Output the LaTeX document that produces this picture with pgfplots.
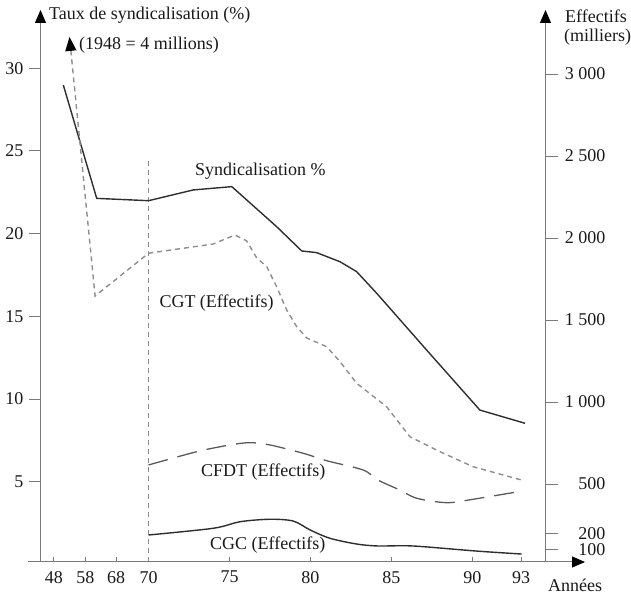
\documentclass[border=0pt]{standalone}
\usepackage{fontspec}
\setmainfont{Liberation Serif}
\usepackage{pgfplots}
\pgfplotsset{compat=1.18}
\usetikzlibrary{arrows.meta}
\definecolor{axisgray}{HTML}{7A7A7A}
\definecolor{syncol}{HTML}{2E2E2E}
\definecolor{cgtcol}{HTML}{8E8E8E}
\definecolor{cfdtcol}{HTML}{5A5A5A}
\definecolor{cgccol}{HTML}{2E2E2E}
\pgfplotsset{
  base/.style={scale only axis, width=505pt, height=552pt, xmin=63.33, xmax=94.51,
    clip=false, axis line style={draw=none},
    tick style={color=axisgray, line width=0.9pt},
    ticklabel style={font=\fontsize{18}{20}\selectfont, text=black!90},
    /pgf/number format/assume math mode=true,
    at={(0,0)}, anchor=south west},
}
\begin{document}
\fontsize{18}{20}\selectfont
\begin{tikzpicture}[x=1pt,y=1pt]
\useasboundingbox (-40.5,-34) rectangle (590.5,562);
% x ticks
\begin{axis}[base, ymin=0, ymax=1, ytick=\empty,
  xtick={64.15,66.1,68,70,75,80,85,90,93},
  xticklabels={48,58,68,70,75,80,85,90,93},
  xtick pos=left, tick align=inside, major tick length=5pt,
  xticklabel style={yshift=-3pt}]
\end{axis}
% left axis (taux)
\begin{axis}[base, ymin=0.145, ymax=33.52, xtick=\empty,
  ytick={5,10,15,20,25,30}, yticklabels={5,10,15,20,25,30},
  ytick pos=left, tick align=outside, major tick length=11pt]
\draw[cgtcol, line width=0.9pt, dash pattern=on 5pt off 4pt] (axis cs:70,0.145) -- (axis cs:70,24.45);
\addplot[syncol, line width=1.4pt] coordinates {
(64.74,28.98) (66.80,22.13) (70,21.99) (72.76,22.64) (75.14,22.84) (77.91,20.42)
(79.46,18.95) (80.38,18.85) (81.82,18.30) (82.85,17.70) (84.09,16.39) (87.17,12.96)
(90.46,9.33) (93.25,8.53)};
\end{axis}
% right axis (effectifs)
\begin{axis}[base, ymin=24.4, ymax=3390, xtick=\empty,
  ytick={100,200,500,1000,1500,2000,2500,3000},
  yticklabels={100,200,500,1 000,1 500,2 000,2 500,3 000},
  ytick pos=right, tick align=outside, major tick length=12pt,
  yticklabel style={anchor=east, xshift=54pt}]
\addplot[cgtcol, line width=1.4pt, dash pattern=on 5pt off 4pt,
  arrows={Triangle[length=14pt,width=11pt,fill=black,color=black]-}] coordinates {
(65.12,3226) (66.70,1646) (70,1907) (73.98,1963) (75.34,2018) (76.06,1982) (76.68,1878)
(77.30,1825) (77.91,1703) (78.53,1561) (79.15,1459) (79.77,1390) (81.00,1337)
(81.82,1246) (82.85,1114) (84.70,971) (86.14,788) (87.99,697) (90.05,605) (93.04,524)};
\addplot[cfdtcol, line width=1.3pt, dash pattern=on 20pt off 10pt, smooth, tension=0.5] coordinates {
(70,616) (72.98,697) (75.03,738) (76.27,752) (77.50,738) (79.56,687) (81.00,642)
(83.26,585) (84.17,524) (85.52,463) (86.56,413) (88.41,386) (90.05,407) (92.83,453)};
\addplot[cgccol, line width=1.4pt, smooth, tension=0.5] coordinates {
(70,189) (74.0,230) (75.65,270) (77.50,285) (78.94,274) (79.97,220) (81.20,169)
(82.85,134) (84.17,122) (86.33,122) (90.26,91) (93.04,73)};
\end{axis}
% axis lines
\draw[axisgray, line width=1pt, -{Triangle[length=13pt,width=11pt,fill=black,color=black]}] (0,0) -- (0,552);
\draw[axisgray, line width=1pt, -{Triangle[length=13pt,width=11pt,fill=black,color=black]}] (505,0) -- (505,552);
\draw[axisgray, line width=1pt, -{Triangle[length=13pt,width=11pt,fill=black,color=black]}] (-12.5,0) -- (544.5,0);
% texts
\begin{scope}[every node/.style={inner sep=0pt, anchor=west, text=black!90}]
\node at (8.5,547) {Taux de syndicalisation (\%)};
\node at (38.5,517) {(1948 = 4 millions)};
\node at (154.5,390.3) {Syndicalisation \%};
\node at (118.8,259) {CGT (Effectifs)};
\node at (160.5,90.3) {CFDT (Effectifs)};
\node at (169.5,17) {CGC (Effectifs)};
\node[anchor=base west] at (524.5,539) {Effectifs};
\node[anchor=base west] at (523.5,520) {(milliers)};
\node at (507.5,-23) {Années};
\end{scope}
\end{tikzpicture}
\end{document}
